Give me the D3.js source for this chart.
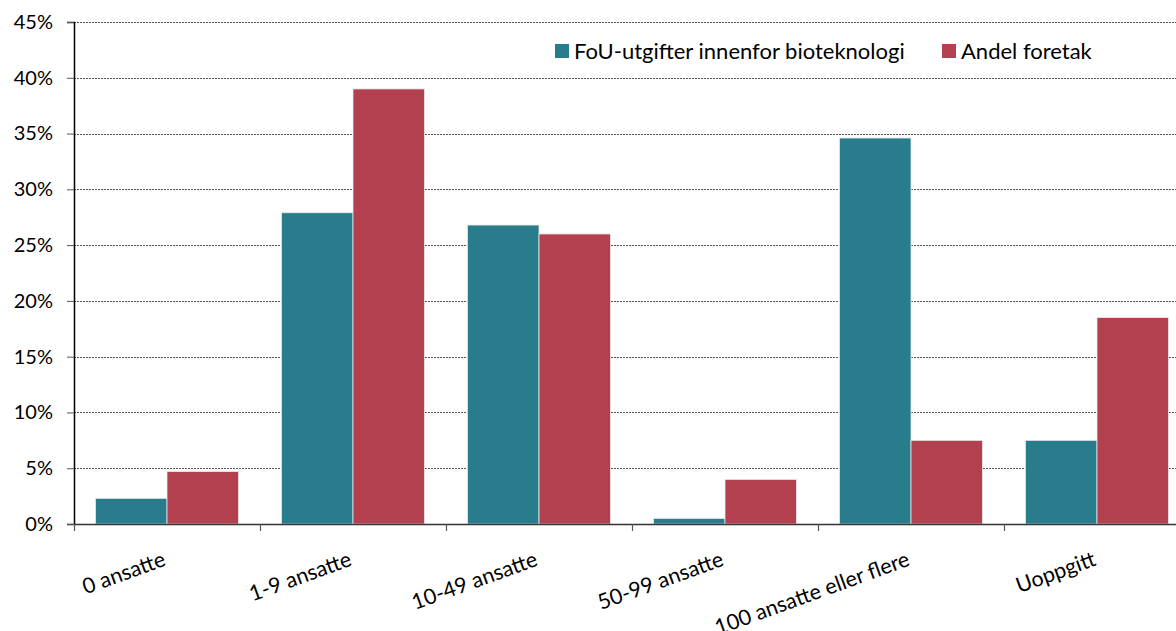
<!DOCTYPE html>
<html>
<head>
<meta charset="utf-8">
<script src="https://cdn.jsdelivr.net/npm/d3@7"></script>
<style>
  html, body { margin: 0; padding: 0; background: #ffffff; }
  svg { display: block; }
  text { font-family: Lato, "Open Sans", sans-serif; fill: #000; }
</style>
</head>
<body>
<svg id="chart" width="1176" height="631"></svg>
<script>
const categories = ["0 ansatte", "1-9 ansatte", "10-49 ansatte", "50-99 ansatte", "100 ansatte eller flere", "Uoppgitt"];
const seriesNames = ["FoU-utgifter innenfor bioteknologi", "Andel foretak"];
const fouValues = [0.023, 0.279, 0.268, 0.005, 0.346, 0.075];
const andelValues = [0.047, 0.390, 0.260, 0.040, 0.075, 0.185];
const yTicks = [0, 0.05, 0.10, 0.15, 0.20, 0.25, 0.30, 0.35, 0.40, 0.45];
const colors = ["#287C8C", "#B2404E"];

(function () {
const svg = d3.select("#chart");
const mLeft = 74, mTop = 22, mBottom = 524;
const step = 186;
const mRight = mLeft + step * categories.length;

const x = d3.scaleBand().domain(categories).range([mLeft, mRight])
  .paddingInner(0.231).paddingOuter(0.1155);
const xs = d3.scaleBand().domain(seriesNames).range([0, x.bandwidth()]);
const y = d3.scaleLinear().domain([0, 0.45]).range([mBottom, mTop]);

const fmt = d => Math.round(d * 100) + "%";

// gridlines
svg.append("g").selectAll("line").data(yTicks.filter(d => d > 0)).join("line")
  .attr("x1", mLeft).attr("x2", 1176)
  .attr("y1", d => Math.round(y(d)) + 0.5).attr("y2", d => Math.round(y(d)) + 0.5)
  .attr("stroke", "#555").attr("stroke-width", 1).attr("stroke-dasharray", "2,1");

// bars
const rows = categories.map((c, i) => ({ c, vals: [fouValues[i], andelValues[i]] }));
const groups = svg.append("g").selectAll("g").data(rows).join("g")
  .attr("transform", d => `translate(${x(d.c)},0)`);
groups.selectAll("rect").data(d => d.vals.map((v, j) => ({ v, s: seriesNames[j], j }))).join("rect")
  .attr("x", d => xs(d.s))
  .attr("y", d => y(d.v))
  .attr("width", xs.bandwidth())
  .attr("height", d => mBottom - y(d.v))
  .attr("fill", d => colors[d.j])
  .attr("stroke", "#e9e9e9").attr("stroke-width", 0.8);

// y axis
const yAxis = d3.axisLeft(y).tickValues(yTicks).tickFormat(fmt).tickSize(7).tickPadding(14);
const yg = svg.append("g").attr("transform", `translate(${mLeft},0)`).call(yAxis);
yg.select(".domain").attr("stroke", "#000").attr("stroke-width", 1.5);
yg.selectAll(".tick line").attr("stroke", "#555");
yg.selectAll(".tick text").style("font-family", "Lato, 'Open Sans', sans-serif").style("font-size", "20px").attr("fill", "#000");

// x axis line
svg.append("line").attr("x1", mLeft).attr("x2", 1176).attr("y1", mBottom + 0.5).attr("y2", mBottom + 0.5)
  .attr("stroke", "#333").attr("stroke-width", 1.5);
// x ticks at band boundaries
const bounds = d3.range(categories.length + 1).map(i => mLeft + i * step);
svg.append("g").selectAll("line").data(bounds).join("line")
  .attr("x1", d => d + 0.5).attr("x2", d => d + 0.5)
  .attr("y1", mBottom).attr("y2", mBottom + 7)
  .attr("stroke", "#555").attr("stroke-width", 1.2);

// x labels
svg.append("g").selectAll("text").data(categories).join("text")
  .attr("transform", d => `translate(${x(d) + x.bandwidth() / 2},565) rotate(-20)`)
  .attr("text-anchor", "end")
  .style("font-size", "21.5px")
  .text(d => d);

// legend
const legendItems = [{ name: seriesNames[0], x: 555 }, { name: seriesNames[1], x: 942 }];
const lg = svg.append("g").selectAll("g").data(legendItems).join("g")
  .attr("transform", d => `translate(${d.x},44)`);
lg.append("rect").attr("width", 14).attr("height", 14).attr("fill", (d, i) => colors[i]);
lg.append("text").attr("x", 19).attr("y", 14.5).style("font-size", "22px").text(d => d.name);
})();
</script>
</body>
</html>
